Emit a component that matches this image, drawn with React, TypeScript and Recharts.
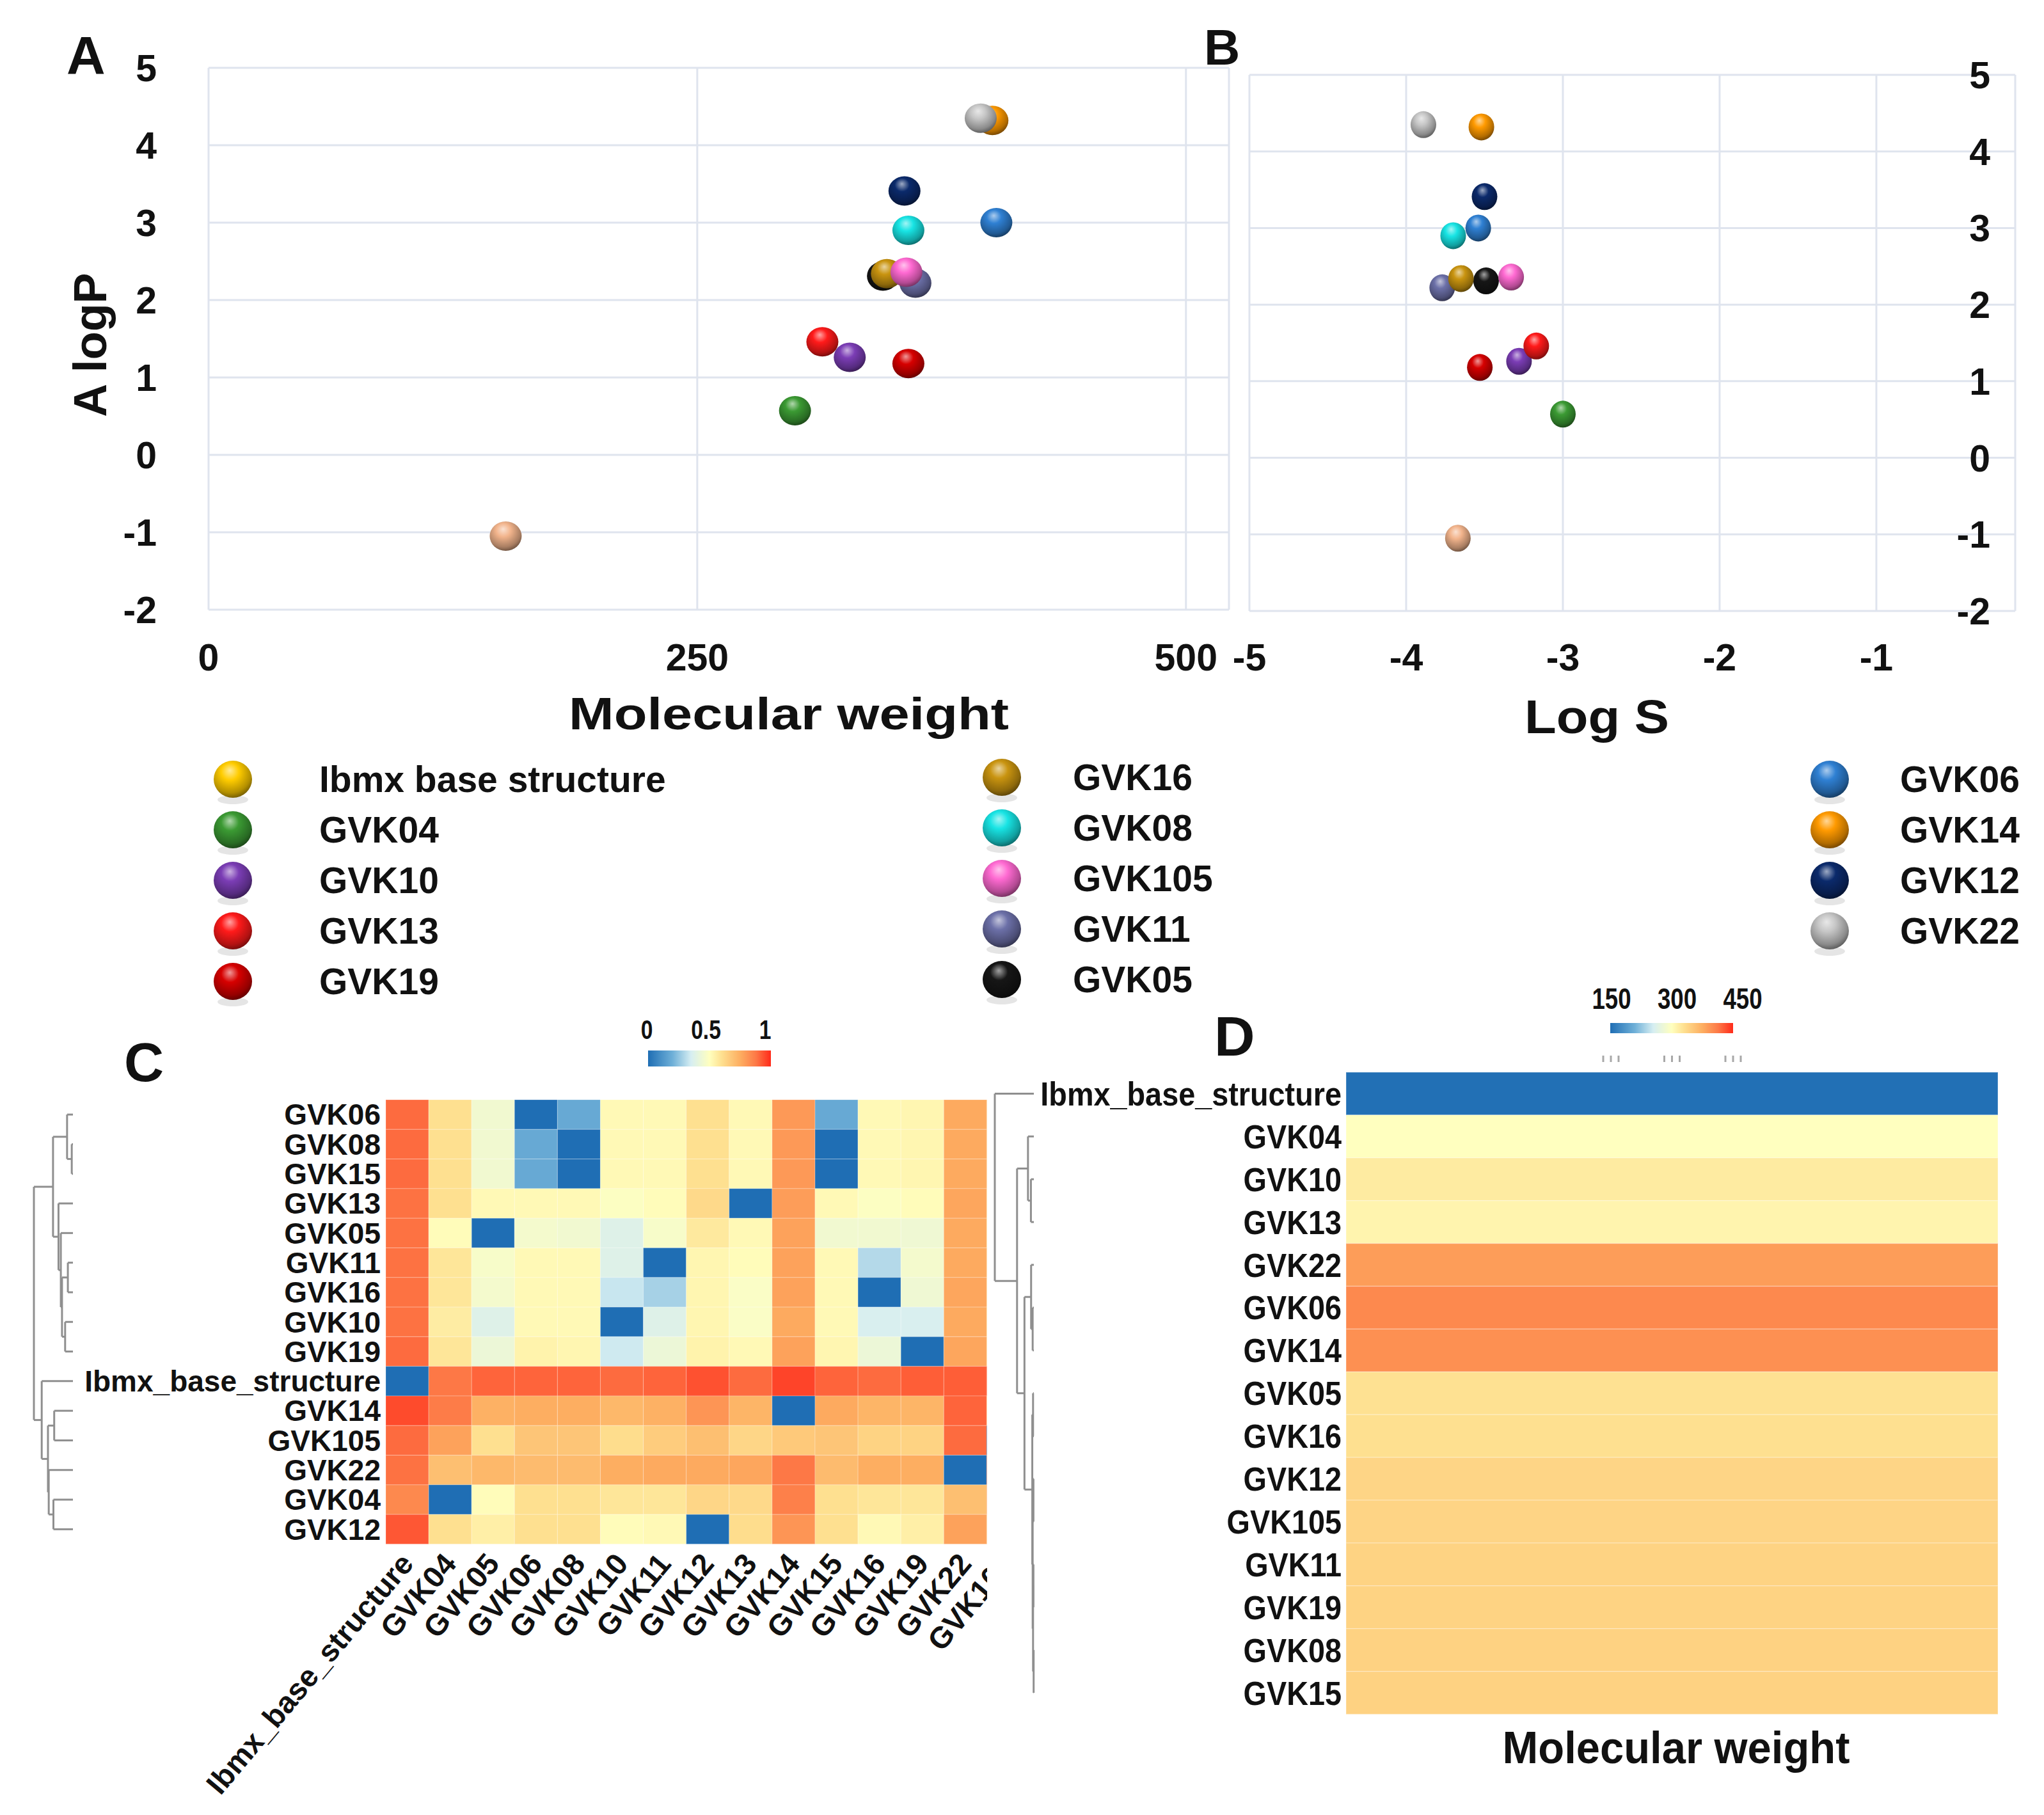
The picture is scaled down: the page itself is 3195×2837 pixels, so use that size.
import React from 'react';
import { ScatterChart, Scatter, XAxis, YAxis, CartesianGrid } from 'recharts';

const FONT = "'Liberation Sans', Arial, Helvetica, sans-serif";
const PAGE_W = 3195;
const PAGE_H = 2837;

// ---------- Panels A & B ----------
const compounds = ['Ibmx base structure', 'GVK04', 'GVK10', 'GVK13', 'GVK19', 'GVK05', 'GVK11', 'GVK16', 'GVK08', 'GVK105', 'GVK06', 'GVK14', 'GVK12', 'GVK22'];
const molWeight = [152, 300, 328, 314, 358, 345, 361.6, 347, 358, 357, 403, 401, 356, 395];
const aLogP = [-1.05, 0.57, 1.26, 1.46, 1.18, 2.31, 2.22, 2.34, 2.9, 2.36, 3.0, 4.32, 3.41, 4.35];
const logS = [-3.67, -3.0, -3.28, -3.17, -3.53, -3.49, -3.77, -3.65, -3.7, -3.33, -3.54, -3.52, -3.5, -3.89];

const mwTicks = [0, 250, 500];
const logPTicks = [-2, -1, 0, 1, 2, 3, 4, 5];
const logSTicks = [-5, -4, -3, -2, -1];

const legendCol1 = ['Ibmx base structure', 'GVK04', 'GVK10', 'GVK13', 'GVK19'];
const legendCol2 = ['GVK16', 'GVK08', 'GVK105', 'GVK11', 'GVK05'];
const legendCol3 = ['GVK06', 'GVK14', 'GVK12', 'GVK22'];

const sphereColors: Record<string, string> = {
  'Ibmx base structure': '#ffcc00',
  GVK04: '#3b9a33',
  GVK10: '#7b3db5',
  GVK13: '#ff1a1a',
  GVK19: '#d60000',
  GVK16: '#c99410',
  GVK08: '#18e4e4',
  GVK105: '#ff6ad2',
  GVK11: '#6c70a8',
  GVK05: '#161616',
  GVK06: '#2f80d3',
  GVK14: '#ff9a00',
  GVK12: '#0b2a6b',
  GVK22: '#c6c6c6',
};
const pointColorOverride: Record<string, string> = { 'Ibmx base structure': '#f2b48c' };

// ---------- Panel C ----------
const simRowLabels = ['GVK06', 'GVK08', 'GVK15', 'GVK13', 'GVK05', 'GVK11', 'GVK16', 'GVK10', 'GVK19', 'Ibmx_base_structure', 'GVK14', 'GVK105', 'GVK22', 'GVK04', 'GVK12'];
const simColLabels = ['Ibmx_base_structure', 'GVK04', 'GVK05', 'GVK06', 'GVK08', 'GVK10', 'GVK11', 'GVK12', 'GVK13', 'GVK14', 'GVK15', 'GVK16', 'GVK19', 'GVK22', 'GVK105'];
const simMatrix: number[][] = [
  [0.9, 0.6, 0.45, 0, 0.18, 0.52, 0.52, 0.6, 0.52, 0.8, 0.18, 0.52, 0.53, 0.76, 0.68],
  [0.9, 0.6, 0.45, 0.18, 0, 0.52, 0.52, 0.6, 0.52, 0.8, 0, 0.52, 0.53, 0.76, 0.68],
  [0.9, 0.6, 0.45, 0.18, 0, 0.52, 0.52, 0.6, 0.52, 0.8, 0, 0.52, 0.53, 0.76, 0.68],
  [0.89, 0.6, 0.52, 0.52, 0.52, 0.49, 0.51, 0.62, 0, 0.79, 0.52, 0.49, 0.51, 0.77, 0.63],
  [0.89, 0.51, 0, 0.46, 0.45, 0.38, 0.47, 0.57, 0.52, 0.78, 0.45, 0.45, 0.44, 0.76, 0.6],
  [0.89, 0.58, 0.47, 0.52, 0.52, 0.38, 0, 0.53, 0.51, 0.78, 0.52, 0.3, 0.46, 0.76, 0.66],
  [0.89, 0.58, 0.46, 0.52, 0.52, 0.33, 0.28, 0.53, 0.48, 0.78, 0.52, 0, 0.44, 0.77, 0.64],
  [0.89, 0.56, 0.38, 0.52, 0.52, 0, 0.38, 0.53, 0.48, 0.76, 0.52, 0.36, 0.36, 0.76, 0.61],
  [0.9, 0.58, 0.43, 0.54, 0.53, 0.34, 0.43, 0.54, 0.52, 0.78, 0.53, 0.43, 0, 0.77, 0.64],
  [0, 0.88, 0.91, 0.91, 0.91, 0.9, 0.91, 0.94, 0.9, 0.96, 0.91, 0.9, 0.92, 0.92, 0.9],
  [0.95, 0.87, 0.74, 0.75, 0.75, 0.72, 0.74, 0.81, 0.73, 0, 0.76, 0.73, 0.73, 0.91, 0.67],
  [0.9, 0.78, 0.6, 0.68, 0.68, 0.61, 0.66, 0.7, 0.63, 0.67, 0.68, 0.64, 0.64, 0.9, 0],
  [0.89, 0.7, 0.72, 0.71, 0.71, 0.75, 0.76, 0.76, 0.77, 0.88, 0.71, 0.75, 0.75, 0, 0.9],
  [0.84, 0, 0.51, 0.6, 0.6, 0.58, 0.58, 0.63, 0.62, 0.86, 0.6, 0.58, 0.58, 0.7, 0.78],
  [0.93, 0.6, 0.55, 0.6, 0.6, 0.51, 0.52, 0, 0.61, 0.81, 0.6, 0.52, 0.55, 0.78, 0.7],
];
const simScaleTicks = [0, 0.5, 1];

// ---------- Panel D ----------
const mwRowLabels = ['Ibmx_base_structure', 'GVK04', 'GVK10', 'GVK13', 'GVK22', 'GVK06', 'GVK14', 'GVK05', 'GVK16', 'GVK12', 'GVK105', 'GVK11', 'GVK19', 'GVK08', 'GVK15'];
const mwHeatValues = [152, 300, 319, 311, 387, 402, 397, 329, 330, 340, 341, 342, 342, 343, 343];
const mwScaleTicks = [150, 300, 450];

// dendrogram trees (leaf = row index, h = merge height 0..1)
type Tree = number | { h: number; l: Tree; r: Tree };
const N = (h: number, l: Tree, r: Tree): Tree => ({ h, l, r });
const simTree: Tree = N(1.0,
  N(0.51, N(0.15, 0, N(0.03, 1, 2)), N(0.37, 3, N(0.31, 4, N(0.28, N(0.13, 5, 6), N(0.2, 7, 8))))),
  N(0.8, 9, N(0.64, N(0.48, 10, 11), N(0.62, 12, N(0.5, 13, 14)))));
const mwTree: Tree = N(1.0, 0,
  N(0.43, N(0.15, 1, N(0.075, 2, 3)),
    N(0.24, N(0.07, 4, N(0.03, 5, 6)),
      N(0.04, N(0.02, 7, 8), N(0.03, N(0.01, 9, 10), N(0.02, N(0.01, 11, 12), N(0.005, 13, 14)))))));

// ---------- helpers ----------
const hex = (c: string) => [1, 3, 5].map((i) => parseInt(c.slice(i, i + 2), 16));
const toHex = (a: number[]) => '#' + a.map((v) => Math.round(Math.max(0, Math.min(255, v))).toString(16).padStart(2, '0')).join('');
const mix = (c1: string, c2: string, t: number) => {
  const a = hex(c1), b = hex(c2);
  return toHex(a.map((v, i) => v + (b[i] - v) * t));
};
const STOPS: [number, string][] = [
  [0, '#1f6eb4'], [0.2, '#6fb0d8'], [0.35, '#d6eef2'], [0.5, '#ffffbf'],
  [0.6, '#fee090'], [0.75, '#fdae61'], [0.88, '#fd7846'], [1, '#ff2a1a'],
];
const divColor = (t: number) => {
  const x = Math.max(0, Math.min(1, t));
  for (let i = 0; i < STOPS.length - 1; i++) {
    const [t0, c0] = STOPS[i];
    const [t1, c1] = STOPS[i + 1];
    if (x <= t1) return mix(c0, c1, (x - t0) / (t1 - t0));
  }
  return STOPS[STOPS.length - 1][1];
};

const gradId = (prefix: string, i: number) => `${prefix}${i}`;
const SphereGrad = ({ id, color }: { id: string; color: string }) => (
  <radialGradient id={id} cx="44%" cy="36%" r="66%" fx="42%" fy="26%">
    <stop offset="0%" stopColor={mix(color, '#ffffff', 0.6)} />
    <stop offset="35%" stopColor={color} />
    <stop offset="80%" stopColor={mix(color, '#000000', 0.3)} />
    <stop offset="100%" stopColor={mix(color, '#000000', 0.55)} />
  </radialGradient>
);

const dataA = compounds.map((name, i) => ({ name, idx: i, x: molWeight[i], y: aLogP[i] }));
const dataB = compounds.map((name, i) => ({ name, idx: i, x: logS[i], y: aLogP[i] }));

const ballShape = (rx: number, ry: number) => (props: any) => {
  const { cx, cy, payload } = props;
  if (cx == null || cy == null) return <g />;
  return <ellipse cx={cx} cy={cy} rx={rx} ry={ry} fill={`url(#${gradId('ballP', payload.idx)})`} />;
};

const tickStyle = { fill: '#111', fontSize: 59, fontWeight: 700, fontFamily: FONT };
const GRID = '#dfe4ee';

// Panel C geometry
const C_PLOT_W = 1006.5;
const C_PLOT_H = 694.5;
const C_CELL_W = C_PLOT_W / simColLabels.length;
const C_CELL_H = C_PLOT_H / simRowLabels.length;
const simCells = simMatrix.flatMap((row, r) => row.map((v, c) => ({ r, c, v })));

const simCellShape = (props: any) => {
  const { cx, cy, payload } = props;
  if (cx == null || cy == null) return <g />;
  return (
    <rect x={cx - C_CELL_W / 2} y={cy - C_CELL_H / 2} width={C_CELL_W} height={C_CELL_H}
      fill={divColor(payload.v)} stroke="#ffffff" strokeOpacity={0.22} strokeWidth={1.2} />
  );
};

const SimColTick = (props: any) => {
  const { x, y, payload } = props;
  const ax = x + 12;
  const ay = y + 32;
  return (
    <text x={ax} y={ay} transform={`rotate(-50, ${ax}, ${ay})`} textAnchor="end"
      fontFamily={FONT} fontWeight={700} fontSize={47} fill="#111">
      {simColLabels[payload.value]}
    </text>
  );
};

// Panel D geometry
const D_PLOT_W = 1019;
const D_PLOT_H = 1003.5;
const D_CELL_H = D_PLOT_H / mwRowLabels.length;
const mwCells = mwRowLabels.map((name, i) => ({ name, r: i, x: 0, v: mwHeatValues[i] }));
const mwCellShape = (props: any) => {
  const { cx, cy, payload } = props;
  if (cx == null || cy == null) return <g />;
  return (
    <rect x={cx - D_PLOT_W / 2} y={cy - D_CELL_H / 2} width={D_PLOT_W} height={D_CELL_H}
      fill={divColor((payload.v - 150) / 300)} stroke="#ffffff" strokeOpacity={0.25} strokeWidth={1.5} />
  );
};
const MwRowTick = (props: any) => {
  const { x, y, payload } = props;
  return (
    <g transform={`translate(${x}, ${y})`}>
      <text x={0} y={0} dy="0.355em" textAnchor="end" transform="scale(0.9,1)"
        fontFamily={FONT} fontWeight={700} fontSize={52} fill="#111">
        {mwRowLabels[payload.value]}
      </text>
    </g>
  );
};

// dendrogram renderer
function dendro(tree: Tree, yOf: (i: number) => number, xOf: (h: number) => number, key: string) {
  const lines: React.ReactElement[] = [];
  let k = 0;
  const walk = (t: Tree): { y: number; h: number } => {
    if (typeof t === 'number') return { y: yOf(t), h: 0 };
    const a = walk(t.l);
    const b = walk(t.r);
    const x = xOf(t.h);
    lines.push(<line key={`${key}${k++}`} x1={x} y1={a.y} x2={x} y2={b.y} />);
    lines.push(<line key={`${key}${k++}`} x1={x} y1={a.y} x2={xOf(a.h)} y2={a.y} />);
    lines.push(<line key={`${key}${k++}`} x1={x} y1={b.y} x2={xOf(b.h)} y2={b.y} />);
    return { y: (a.y + b.y) / 2, h: t.h };
  };
  walk(tree);
  return lines;
}

const NarrowText = ({ x, y, size, sx, anchor = 'middle', children, weight = 700 }: any) => (
  <g transform={`translate(${x}, ${y})`}>
    <text x={0} y={0} transform={`scale(${sx},1)`} textAnchor={anchor} fontFamily={FONT}
      fontWeight={weight} fontSize={size} fill="#111">{children}</text>
  </g>
);

const LegendItem = ({ name, bx, tx, y, gid }: any) => (
  <g>
    <ellipse cx={bx} cy={y + 32} rx={24} ry={7} fill="#000" opacity={0.1} />
    <ellipse cx={bx} cy={y} rx={30} ry={29} fill={`url(#${gid})`} />
    <text x={tx} y={y + 20} fontFamily={FONT} fontWeight={700} fontSize={57} fill="#111">{name}</text>
  </g>
);

export default function App() {
  const legendRowsY = [1218, 1297, 1376, 1455, 1534];
  const allLegend = [...legendCol1, ...legendCol2, ...legendCol3];

  const simYOf = (i: number) => 1719 + (i + 0.5) * C_CELL_H;
  const simXOf = (h: number) => 114 - h * 61;
  const mwYOf = (i: number) => 1676 + (i + 0.5) * D_CELL_H;
  const mwXOf = (h: number) => 1616 - h * 61;

  return (
    <div style={{ position: 'absolute', left: 0, top: 0, width: PAGE_W, height: PAGE_H, background: '#ffffff', overflow: 'hidden' }}>
      <svg width={0} height={0} style={{ position: 'absolute' }}>
        <defs>
          {compounds.map((name, i) => (
            <SphereGrad key={name} id={gradId('ballP', i)} color={pointColorOverride[name] ?? sphereColors[name]} />
          ))}
          {allLegend.map((name, i) => (
            <SphereGrad key={'L' + name} id={gradId('ballL', i)} color={sphereColors[name]} />
          ))}
          <linearGradient id="divbar" x1="0" x2="1" y1="0" y2="0">
            {STOPS.map(([t, c]) => <stop key={t} offset={`${t * 100}%`} stopColor={c} />)}
          </linearGradient>
        </defs>
      </svg>

      {/* Panel A */}
      <div style={{ position: 'absolute', left: 0, top: 0 }}>
        <ScatterChart width={1950} height={1180} margin={{ top: 106, right: 29, bottom: 27, left: 0 }}>
          <CartesianGrid stroke={GRID} strokeWidth={3} />
          <XAxis type="number" dataKey="x" domain={[0, 522]} ticks={mwTicks} height={200} interval={0}
            axisLine={false} tickLine={false} tickSize={0} tickMargin={53} tick={tickStyle} />
          <YAxis type="number" dataKey="y" domain={[-2, 5]} ticks={logPTicks} width={326} interval={0}
            axisLine={false} tickLine={false} tickSize={0} tickMargin={81} tick={tickStyle} />
          <Scatter data={dataA} shape={ballShape(25, 23)} isAnimationActive={false} />
        </ScatterChart>
      </div>

      {/* Panel B */}
      <div style={{ position: 'absolute', left: 1890, top: 0 }}>
        <ScatterChart width={1305} height={1180} margin={{ top: 117, right: 45, bottom: 25, left: 63 }}>
          <CartesianGrid stroke={GRID} strokeWidth={3} />
          <XAxis type="number" dataKey="x" domain={[-5, -0.114]} ticks={logSTicks} height={200} interval={0}
            axisLine={false} tickLine={false} tickSize={0} tickMargin={51} tick={tickStyle} />
          <YAxis type="number" dataKey="y" domain={[-2, 5]} ticks={logPTicks} orientation="right" mirror interval={0}
            axisLine={false} tickLine={false} tickSize={0} tickMargin={39} tick={tickStyle} />
          <Scatter data={dataB} shape={ballShape(20, 21)} isAnimationActive={false} />
        </ScatterChart>
      </div>

      {/* Panel C */}
      <div style={{ position: 'absolute', left: 0, top: 1580, width: 1543, height: 1257, overflow: 'hidden' }}>
        <ScatterChart width={1700} height={1257} margin={{ top: 139, right: 90.5, bottom: 23.5, left: 0 }}>
          <XAxis type="number" dataKey="c" domain={[-0.5, simColLabels.length - 0.5]}
            ticks={simColLabels.map((_, i) => i)} interval={0} height={400}
            axisLine={false} tickLine={false} tickSize={0} tickMargin={0}
            tick={(p: any) => <SimColTick {...p} />} />
          <YAxis type="number" dataKey="r" domain={[-0.5, simRowLabels.length - 0.5]} reversed
            ticks={simRowLabels.map((_, i) => i)} interval={0} width={603}
            tickFormatter={(v: number) => simRowLabels[v]}
            axisLine={false} tickLine={false} tickSize={0} tickMargin={8}
            tick={{ fill: '#111', fontSize: 46, fontWeight: 700, fontFamily: FONT }} />
          <Scatter data={simCells} shape={simCellShape} isAnimationActive={false} />
        </ScatterChart>
      </div>

      {/* Panel D */}
      <div style={{ position: 'absolute', left: 1620, top: 1500 }}>
        <ScatterChart width={1575} height={1337} margin={{ top: 176, right: 72, bottom: 157.5, left: 0 }}>
          <XAxis type="number" dataKey="x" domain={[-0.5, 0.5]} hide />
          <YAxis type="number" dataKey="r" domain={[-0.5, mwRowLabels.length - 0.5]} reversed
            ticks={mwRowLabels.map((_, i) => i)} interval={0} width={484}
            axisLine={false} tickLine={false} tickSize={0} tickMargin={7}
            tick={(p: any) => <MwRowTick {...p} />} />
          <Scatter data={mwCells} shape={mwCellShape} isAnimationActive={false} />
        </ScatterChart>
      </div>

      {/* Overlay: titles, legend, colour bars, dendrograms */}
      <svg width={PAGE_W} height={PAGE_H} style={{ position: 'absolute', left: 0, top: 0, pointerEvents: 'none' }}>
        {/* panel letters */}
        <text x={104} y={116} fontFamily={FONT} fontWeight={700} fontSize={84} fill="#111">A</text>
        <text x={1882} y={101} fontFamily={FONT} fontWeight={700} fontSize={78} fill="#111">B</text>
        <text x={194} y={1690} fontFamily={FONT} fontWeight={700} fontSize={86} fill="#111">C</text>
        <text x={1898} y={1650} fontFamily={FONT} fontWeight={700} fontSize={88} fill="#111">D</text>

        {/* axis titles */}
        <text x={166} y={539} transform="rotate(-90, 166, 539)" textAnchor="middle"
          fontFamily={FONT} fontWeight={700} fontSize={72} fill="#111">A logP</text>
        <text x={1233} y={1140} textAnchor="middle" textLength={688} lengthAdjust="spacingAndGlyphs"
          fontFamily={FONT} fontWeight={700} fontSize={71} fill="#111">Molecular weight</text>
        <text x={2496} y={1146} textAnchor="middle" textLength={226} lengthAdjust="spacingAndGlyphs"
          fontFamily={FONT} fontWeight={700} fontSize={74} fill="#111">Log S</text>
        <text x={2620} y={2756} textAnchor="middle" textLength={543} lengthAdjust="spacingAndGlyphs"
          fontFamily={FONT} fontWeight={700} fontSize={70} fill="#111">Molecular weight</text>

        {/* legend */}
        {legendCol1.map((name, i) => (
          <LegendItem key={name} name={name} bx={364} tx={499} y={legendRowsY[i]} gid={gradId('ballL', i)} />
        ))}
        {legendCol2.map((name, i) => (
          <LegendItem key={name} name={name} bx={1566} tx={1677} y={legendRowsY[i] - 3} gid={gradId('ballL', legendCol1.length + i)} />
        ))}
        {legendCol3.map((name, i) => (
          <LegendItem key={name} name={name} bx={2860} tx={2970} y={legendRowsY[i]} gid={gradId('ballL', legendCol1.length + legendCol2.length + i)} />
        ))}

        {/* colour bar C */}
        <rect x={1013} y={1642} width={192} height={25} fill="url(#divbar)" />
        {simScaleTicks.map((t) => (
          <NarrowText key={t} x={1011 + t * 185} y={1624} size={42} sx={0.8}>{String(t)}</NarrowText>
        ))}

        {/* colour bar D */}
        <rect x={2517} y={1599} width={192} height={16} fill="url(#divbar)" />
        {mwScaleTicks.map((t) => (
          <NarrowText key={t} x={2519 + ((t - 150) / 300) * 205} y={1577} size={47} sx={0.78}>{String(t)}</NarrowText>
        ))}
        {mwScaleTicks.map((t) => (
          <g key={'d' + t} fill="#a8a8a8">
            {[-12, 0, 12].map((o) => (
              <rect key={o} x={2518 + ((t - 150) / 300) * 191 + o - 1.5} y={1650} width={3} height={10} />
            ))}
          </g>
        ))}

        {/* dendrograms */}
        <g stroke="#8f8f8f" strokeWidth={3} fill="none">
          {dendro(simTree, simYOf, simXOf, 'c')}
        </g>
        <g stroke="#8f8f8f" strokeWidth={3} fill="none">
          {dendro(mwTree, mwYOf, mwXOf, 'd')}
        </g>
      </svg>
    </div>
  );
}
